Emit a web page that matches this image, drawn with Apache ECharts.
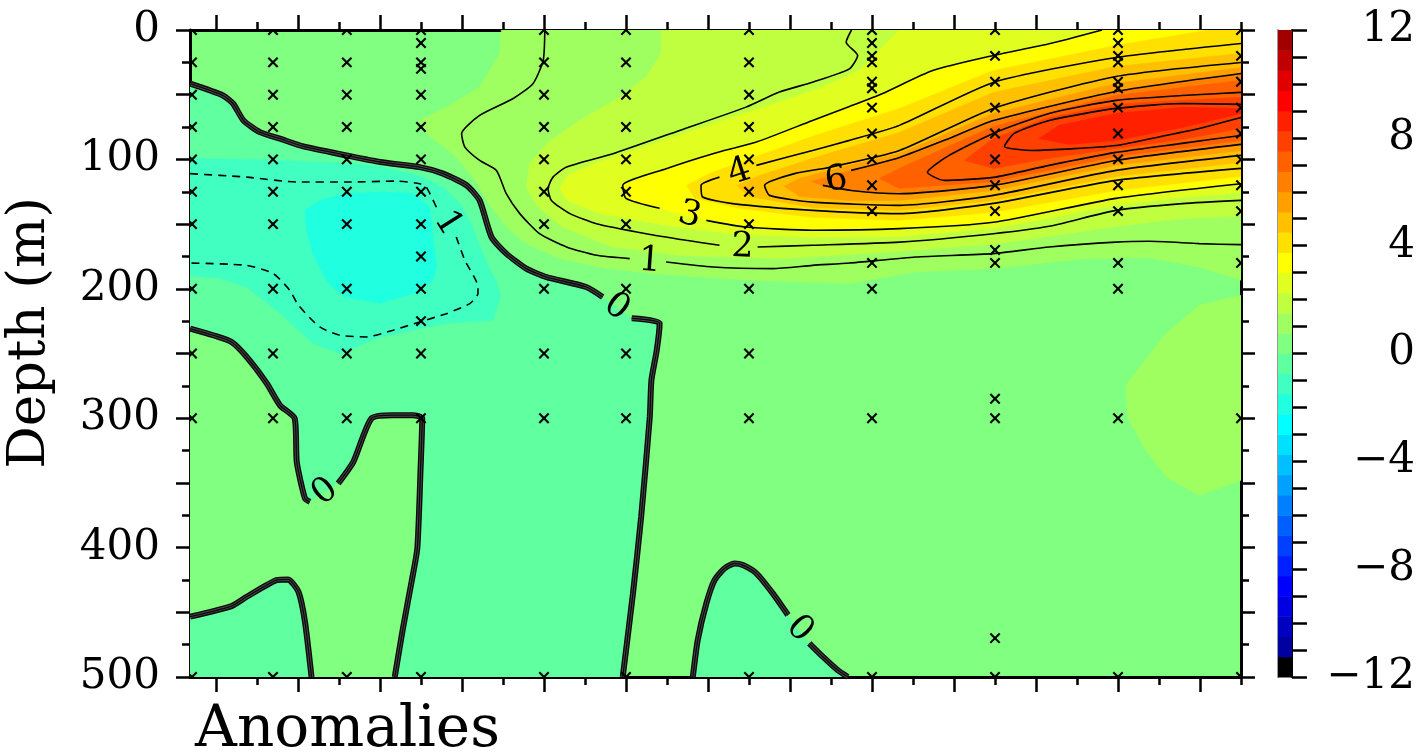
<!DOCTYPE html>
<html>
<head>
<meta charset="utf-8">
<script src="https://cdn.jsdelivr.net/npm/echarts@6/dist/echarts.min.js"></script>
<style>html,body{margin:0;padding:0;background:#fff}#c{width:1422px;height:752px}</style>
</head>
<body>
<div id="c"></div>
<script>
// ---------- axes ----------
const X_MIN = -0.634, X_MAX = 25;
const xMajorTicks = [0,2,4,6,8,10,12,14,16,18,20,22,24];
const xMinorTicks = [1,3,5,7,9,11,13,15,17,19,21,23,25];
const depthMin = 0, depthMax = 500;

// ---------- sampling stations (x position, depths) ----------
const stationX = [-0.585, 1.39, 3.19, 5, 8, 10, 13, 16, 19, 22, 25];
const stationDepths = [
  [0,25,50,75,100,125,150,200,250,300,500],
  [0,25,50,75,100,125,150,200,250,300,500],
  [0,25,50,75,100,125,150,200,250,300,500],
  [0,10,25,30,50,75,100,125,150,175,200,225,250,300,500],
  [0,25,50,75,100,125,150,200,250,300,500],
  [0,25,50,75,100,125,150,200,250,300,500],
  [0,25,50,75,100,125,150,200,250,300,500],
  [0,10,20,25,40,45,60,80,100,120,140,180,200,300,500],
  [0,20,40,60,80,100,120,140,170,180,285,300,470,500],
  [0,10,20,25,40,45,60,80,100,120,140,180,200,300,500],
  [0,20,40,60,80,100,120,140,180,300,500]
];

// ---------- contour lines [x, depth] ----------
const zeroA1 = [[-0.63,41.5],[0.17,50.6],[0.42,57],[0.67,69.9],[1.07,78.9],[1.56,84],[2.13,90],[3.18,96.9],[4.0,102],[4.97,106],[5.54,111],[6.11,120],[6.43,131.7],[6.72,160],[7.08,172.8],[7.57,184.4],[8.06,190.9],[9.03,198.6],[9.43,206.3]];
const zeroA2 = [[10.14,222.8],[10.82,226.6],[10.75,247.5],[10.62,270.7],[10.58,299],[10.37,376.2],[10.17,435.4],[9.92,500]];
const zeroB1 = [[-0.63,230.7],[-0.07,235.9],[0.38,241.1],[0.75,252.7],[1.24,273.2],[1.56,290],[1.92,300.2],[1.97,333.7],[2.17,362],[2.29,364.6]];
const zeroB2 = [[2.98,350.4],[3.35,333.7],[3.79,300.2],[4.32,297.7],[4.81,297.7],[5.03,300.2],[4.99,338.8],[4.91,400.6],[4.77,426.4],[4.56,462.4],[4.36,500]];
const zeroC = [[-0.63,453.4],[0.38,445.2],[0.75,438],[1.48,425.1],[1.76,424.6],[2.01,434.1],[2.17,457.3],[2.33,500]];
const zeroD1 = [[11.63,500],[11.75,471.4],[11.96,443.1],[12.16,425.1],[12.4,416.1],[12.65,412.2],[12.85,413.5],[13.18,419.9],[13.58,435.4],[13.95,452.1]];
const zeroD2 = [[14.47,474],[14.8,484.3],[15.16,494.6],[15.41,500]];
const minus1a = [[-0.63,111],[0.75,113.7],[1.97,117.5],[3.18,117.5],[4.4,116.8],[4.97,118.8],[5.13,121.4],[5.42,140]];
const minus1b = [[5.86,160],[6.07,178],[6.39,198.6],[6.39,203.7],[6.19,211.4],[5.62,219.2],[4.97,225.6],[4.32,232],[3.67,237.2],[3.02,235.9],[2.53,229.5],[2.01,212.7],[1.8,201.2],[1.4,188.3],[0.75,181.9],[-0.63,180.1]];
const c1a = [[8.02,0],[7.98,23.6],[7.73,41.5],[7.24,53.1],[6.43,66],[5.99,80.2],[6.07,90.5],[6.43,100.8],[6.84,108.5],[7.08,126.5],[7.41,141.9],[7.89,157.4],[8.55,167.7],[9.28,174.1],[10.09,176.7]];
const c1b = [[10.98,179.3],[12.12,183.2],[13.58,184.4],[14.55,181.9],[15.45,180.1],[17.07,175.4],[18.96,172.8],[20.32,167.7],[21.95,163.9],[22.76,163.3],[23.98,165.1],[25,165.9]];
const c2a = [[15.5,0],[15.37,9.4],[15.65,19.7],[15.45,30],[14.55,40.3],[13.74,48],[12.93,59.6],[11.31,77.6],[9.68,95.6],[8.55,105.9],[8.22,113.7],[8.1,122.6],[8.18,131.7],[8.63,141.9],[9.28,149.7],[10.49,157.4],[11.47,162.5],[12.28,166.4]];
const c2b = [[13.21,167.7],[14.55,166.4],[16.67,163.9],[18.96,157.4],[20.32,151.7],[21.95,139.4],[23.57,134.2],[25,131.7]];
const c3a = [[21.61,0],[20.32,10.7],[18.96,19.7],[17.48,31.3],[16.26,49],[15.45,59.1],[14.55,69.9],[13.18,86.6],[12.12,95.6],[10.98,107.2],[9.92,120.1],[10.0,130.1],[10.82,137.8]];
const c3b = [[11.96,147.1],[12.93,152.3],[14.55,154.8],[16.67,153.5],[18.96,148.6],[21.95,130.1],[25,118.8]];
const c4a = [[25,10.4],[21.95,21.2],[18.96,40.5],[16.67,73.7],[15.45,85.3],[14.55,93.1],[13.18,104.6]];
const c4b = [[12.28,113.7],[11.83,120.1],[11.87,129.1],[12.6,134.2],[14.55,139.4],[16.67,141.9],[18.96,134],[21.95,116.2],[25,106.9]];
const c5 = [[25,25.1],[21.95,35.9],[18.96,60.6],[16.67,93.1],[14.95,106.2],[14.13,110.8],[13.38,120.1],[13.5,127.8],[14.55,133],[16.67,135.5],[18.96,127.8],[21.95,108.5],[25,96.9]];
const c6a = [[25,33.6],[21.95,47.5],[18.96,69.9],[17.88,83.8],[16.67,98.5],[15.49,108.5]];
const c6b = [[14.8,120.1],[15.49,124],[16.67,126.5],[18.96,120.1],[21.95,100.8],[25,88.4]];
const c7 = [[25,48.2],[23.56,50.6],[21.95,54.4],[20.32,64.5],[18.96,79.9],[17.88,96.9],[17.35,110],[17.76,116.2],[18.96,113.9],[20.32,104.6],[21.95,94.6],[23.56,87.6],[25,81.5]];
const c8 = [[25,57.5],[23.56,56.8],[21.95,60.6],[20.32,69.9],[19.47,79.9],[19.23,90],[19.91,93.1],[21.95,89.2],[23.17,81.5],[23.98,76.1],[25,67.6]];

// ---------- filled band boundaries [x, depth] ----------
const neg075 = [[-0.7,99.2],[-0.63,99.2],[0.83,100],[2.78,102.3],[4.0,105.4],[4.97,113.1],[5.58,122.4],[5.99,135.5],[6.24,151],[6.43,166.4],[6.63,181.9],[6.85,195],[6.94,205],[6.75,224.3],[5.63,226.6],[4.0,237.5],[3.02,249.8],[2.36,242.1],[1.56,218.9],[0.76,198.8],[0.1,191.9],[-0.63,189.6],[-0.7,189.6]];
const neg150 = [[2.17,139.4],[2.53,131.7],[3.18,126.5],[4.0,125.3],[4.8,126.3],[5.21,136.8],[5.29,160],[5.38,183.2],[5.29,193.4],[4.8,203.5],[4.0,211.2],[3.18,206.3],[2.85,198.8],[2.7,193.4],[2.36,172.6],[2.21,154.8]];
const pos075 = [[6.96,-5],[6.96,0],[6.92,18.4],[6.43,44.2],[5.62,59.6],[4.97,69.9],[5.14,80.2],[5.78,95.6],[6.27,113.7],[6.68,135.5],[7.16,154.8],[7.65,166.4],[8.38,176.4],[9.36,183.4],[10.58,188],[13.01,193.4],[15.45,195.8],[17.07,187],[18.96,184.4],[21.13,176.7],[22.76,175.9],[23.98,183.2],[25,193.4],[25.2,193.4],[25.2,-5]];
const pos075b = [[25.2,205],[25,205],[23.98,212.7],[23.17,234.6],[22.19,274.5],[22.23,299],[22.68,324.7],[23.17,345.3],[23.98,359.5],[25,347.9],[25.2,347.9]];
const pos150 = [[10.86,-5],[10.86,0],[10.86,18.1],[10.49,36.4],[9.84,51.9],[8.87,69.9],[8.06,87.9],[7.65,103.3],[7.57,121.4],[7.85,136.8],[8.46,152.3],[9.68,167.7],[11.31,174.1],[13.74,176.7],[16.67,171],[18.96,165.6],[21.95,151.7],[23.56,145.6],[25,144],[25.2,144],[25.2,-5]];
const pos225 = [[16.67,-5],[16.67,0],[16.18,15.8],[15.69,31.3],[14.72,45.2],[13.26,60.6],[11.79,76.1],[10.33,91.5],[9.23,103.1],[8.58,112.4],[8.38,122.4],[8.58,131.7],[9.36,141.7],[10.82,150.2],[12.52,157.1],[14.55,160.2],[16.67,159.5],[18.96,153.3],[21.95,135.5],[23.56,129.3],[25,125.5],[25.2,125.5],[25.2,-5]];
const pos375 = [[24.22,-5],[24.22,0],[21.95,12],[18.96,31.3],[16.67,60.6],[14.55,82.2],[13.18,97.7],[12.04,110.8],[11.48,120.1],[11.67,130.1],[12.77,137.8],[14.55,144.8],[16.67,147.1],[18.96,140.9],[21.95,124],[25,113.1],[25.2,113.1],[25.2,-5]];
const pos450 = [[25.2,18.1],[25,18.1],[21.95,28.2],[18.96,48.3],[16.67,79.2],[14.55,99.2],[13.26,112.4],[12.7,120.1],[13.01,128.6],[14.55,137.1],[16.67,139.4],[18.96,131.7],[21.95,113.1],[25,102.3],[25.2,102.3]];
const pos525 = [[25.2,29],[25,29],[21.95,41.3],[18.96,64.5],[16.67,95.4],[15.45,104.6],[14.23,114.7],[13.86,120.8],[14.23,128.6],[15.45,131.7],[16.67,131.7],[18.96,124],[21.95,104.6],[25,93.1],[25.2,93.1]];
const pos675 = [[25.2,39],[25,39],[21.95,50.6],[18.96,74.5],[17.64,93.1],[16.67,107],[16.18,114.7],[16.67,122.4],[18.96,117],[21.95,97.7],[25,85.3],[25.2,85.3]];
const pos750 = [[25.2,52.1],[25,52.1],[23.56,54.4],[21.95,57.5],[20.32,67.6],[18.96,83.8],[18.25,100.8],[18.96,106.9],[20.32,99.2],[21.95,91.5],[23.56,84.5],[25,76.1],[25.2,76.1]];
const pos825 = [[25.2,60.6],[25,60.6],[23.56,59.8],[21.95,64.5],[20.56,73.7],[20.08,83.8],[20.81,88.4],[21.95,85.3],[23.56,75.3],[25,64.5],[25.2,64.5]];

// ---------- contour labels ----------
const labelText = ['0','0','0','1','1','2','3','4','6'];
const labelPos = [[9.77,214.3],[2.66,357.1],[14.23,463],[5.65,149.4],[10.58,178.8],[12.84,168],[11.55,143.2],[12.77,110],[15.13,116.2]];
const labelAngle = [-36,38,-46,-58,-4,-2,-15,18,10];

// ---------- colour scale ----------
const cbLevels = [-12,-11.25,-10.5,-9.75,-9,-8.25,-7.5,-6.75,-6,-5.25,-4.5,-3.75,-3,-2.25,-1.5,-0.75,0,0.75,1.5,2.25,3,3.75,4.5,5.25,6,6.75,7.5,8.25,9,9.75,10.5,11.25,12];
const palette = ['#000000','#0000a0','#0000c0','#0000e0','#0000ff','#0020ff','#0040ff','#0060ff','#0080ff','#00a0ff','#00c0ff','#00e0ff','#00ffff','#20ffe0','#40ffc0','#60ffa0','#80ff80','#a0ff60','#c0ff40','#e0ff20','#ffff00','#ffe000','#ffc000','#ffa000','#ff8000','#ff6000','#ff4000','#ff2000','#ff0000','#e00000','#c00000','#a00000'];

// ---------- build ----------
const FONT = '"DejaVu Serif", "Liberation Serif", serif';
const series = [];
function poly(points, color) {
  series.push({
    type: 'custom', xAxisIndex: 0, yAxisIndex: 0, clip: true, silent: true, z: 1,
    data: points,
    renderItem: function (params, api) {
      if (params.dataIndex !== 0) return null;
      return { type: 'polygon', shape: { points: points.map(p => api.coord(p)) },
               style: { fill: color, stroke: color, lineWidth: 0.6 } };
    }
  });
}
const rev = a => a.slice().reverse();
poly([...zeroA1, ...zeroA2, [9.92,505], [-0.7,505], [-0.7,41.5]], palette[15]);
poly([...zeroB1, ...zeroB2, [4.36,505], [2.33,505], ...rev(zeroC), [-0.7,453.4], [-0.7,230.7]], palette[16]);
poly([...zeroD1, ...zeroD2, [15.41,505], [11.63,505]], palette[15]);
poly(neg075, palette[14]);
poly(neg150, palette[13]);
poly(pos075, palette[17]);
poly(pos075b, palette[17]);
poly(pos150, palette[18]);
poly(pos225, palette[19]);
poly([[21.61,-5], ...c3a, ...c3b, [25.2,118.8], [25.2,-5]], palette[20]);
poly(pos375, palette[21]);
poly(pos450, palette[22]);
poly(pos525, palette[23]);
poly([[25.2,33.6], ...c6a, [14.52,117], ...c6b, [25.2,88.4]], palette[24]);
poly(pos675, palette[25]);
poly(pos750, palette[26]);
poly(pos825, palette[27]);

function line(seg, style, z) {
  series.push({ type: 'line', xAxisIndex: 0, yAxisIndex: 0, data: seg, showSymbol: false, symbol: 'none',
    smooth: 0.2, silent: true, z: z || 5, lineStyle: style, clip: true });
}
[c1a, c1b, c2a, c2b, c3a, c3b, c4a, c4b, c5, c6a, c6b, c7, c8].forEach(s => line(s, { color: '#000', width: 1.6 }));
[minus1a, minus1b].forEach(s => line(s, { color: '#000', width: 1.6, type: [8, 6] }));
[zeroA1, zeroA2, zeroB1, zeroB2, zeroC, zeroD1, zeroD2].forEach(s => {
  line(s, { color: '#0a0a0a', width: 6 }, 6);
  line(s, { color: '#484848', width: 3.2 }, 7);
  line(s, { color: '#0a0a0a', width: 1.3 }, 8);
});

series.push({
  type: 'scatter', xAxisIndex: 0, yAxisIndex: 0, symbolSize: 1, silent: true, z: 9,
  itemStyle: { color: 'rgba(0,0,0,0)' },
  labelLayout: { hideOverlap: false },
  label: { show: true, position: 'inside', fontFamily: FONT, fontSize: 35, color: '#000',
           textBorderWidth: 0, textBorderColor: 'transparent', opacity: 1 },
  data: labelPos.map((p, i) => ({ value: p, label: { show: true, formatter: labelText[i], rotate: labelAngle[i] } }))
});

const markers = [];
stationX.forEach((x, i) => stationDepths[i].forEach(d => markers.push([x, d])));
series.push({
  type: 'custom', xAxisIndex: 0, yAxisIndex: 0, clip: true, silent: true, z: 10, data: markers,
  renderItem: function (params, api) {
    const c = api.coord([api.value(0), api.value(1)]); const s = 4.7;
    return { type: 'group', children: [
      { type: 'line', shape: { x1: c[0]-s, y1: c[1]-s, x2: c[0]+s, y2: c[1]+s }, style: { stroke: '#000', lineWidth: 2.1 } },
      { type: 'line', shape: { x1: c[0]-s, y1: c[1]+s, x2: c[0]+s, y2: c[1]-s }, style: { stroke: '#000', lineWidth: 2.1 } }
    ] };
  }
});

// colour bar
series.push({
  type: 'custom', xAxisIndex: 4, yAxisIndex: 4, silent: true, clip: false,
  data: palette.map((c, i) => [0.5, cbLevels[i]]),
  renderItem: function (params, api) {
    const i = params.dataIndex;
    const p = api.coord([0, cbLevels[i + 1]]), q = api.coord([1, cbLevels[i]]);
    return { type: 'rect', shape: { x: p[0], y: p[1], width: q[0] - p[0], height: q[1] - p[1] + 0.5 },
             style: { fill: palette[i] } };
  }
});

const AX = { color: '#000', width: 3 };
function xAx(pos, ticks, len, showLine) {
  return { type: 'value', gridIndex: 0, position: pos, min: X_MIN, max: X_MAX,
    axisLine: { show: showLine, onZero: false, lineStyle: AX },
    axisTick: { show: true, inside: false, length: len, customValues: ticks, lineStyle: { color: '#000', width: 2.5 } },
    axisLabel: { show: false }, splitLine: { show: false } };
}
function yAx(pos, interval, len, showLine, labels) {
  return { type: 'value', gridIndex: 0, position: pos, inverse: true, min: depthMin, max: depthMax, interval: interval,
    axisLine: { show: showLine, onZero: false, lineStyle: AX },
    axisTick: { show: true, inside: false, length: len, lineStyle: { color: '#000', width: 2.5 } },
    axisLabel: labels ? { show: true, margin: 30, color: '#000', fontFamily: FONT, fontSize: 42,
      formatter: v => (v % 100 === 0 ? String(v) : '') } : { show: false },
    splitLine: { show: false } };
}

const option = {
  animation: false,
  backgroundColor: '#fff',
  textStyle: { fontFamily: FONT },
  grid: [
    { left: 190, top: 30, width: 1051, height: 647, show: true, backgroundColor: palette[16], borderWidth: 0, containLabel: false, outerBoundsMode: 'none' },
    { left: 1278, top: 30, width: 14, height: 647, containLabel: false, outerBoundsMode: 'none' }
  ],
  xAxis: [
    xAx('bottom', xMajorTicks, 15, true),
    xAx('bottom', xMinorTicks, 8, false),
    xAx('top', xMajorTicks, 15, true),
    xAx('top', xMinorTicks, 8, false),
    { type: 'value', gridIndex: 1, min: 0, max: 1, show: false }
  ],
  yAxis: [
    yAx('left', 50, 14, true, true),
    yAx('left', 25, 8, false, false),
    yAx('right', 50, 14, true, false),
    yAx('right', 25, 8, false, false),
    { type: 'value', gridIndex: 1, position: 'right', min: -12, max: 12, interval: 1,
      axisLine: { show: true, onZero: false, lineStyle: { color: '#000', width: 2 } },
      axisTick: { show: true, inside: false, length: 15, lineStyle: { color: '#000', width: 2.5 } },
      axisLabel: { show: true, align: 'right', margin: 123, color: '#000', fontFamily: FONT, fontSize: 42,
        formatter: v => (v % 4 === 0 ? (v < 0 ? '\u2212' + (-v) : String(v)) : '') },
      splitLine: { show: false } },
    { type: 'value', gridIndex: 1, position: 'left', min: -12, max: 12,
      axisLine: { show: true, onZero: false, lineStyle: { color: '#999', width: 2 } },
      axisTick: { show: false }, axisLabel: { show: false }, splitLine: { show: false } }
  ],
  graphic: [
    { type: 'text', x: 30, y: 333, rotation: Math.PI / 2, z: 100,
      style: { text: 'Depth (m)', font: '53px "DejaVu Serif"', fill: '#000', align: 'center', verticalAlign: 'middle', textAlign: 'center', textVerticalAlign: 'middle' } },
    { type: 'text', x: 195, y: 731, z: 100,
      style: { text: 'Anomalies', font: '58px "DejaVu Serif"', fill: '#000', align: 'left', verticalAlign: 'middle', textAlign: 'left', textVerticalAlign: 'middle' } }
  ],
  series: series
};
const chart = echarts.init(document.getElementById('c'), null, { renderer: 'canvas' });
chart.setOption(option);
</script>
</body>
</html>
